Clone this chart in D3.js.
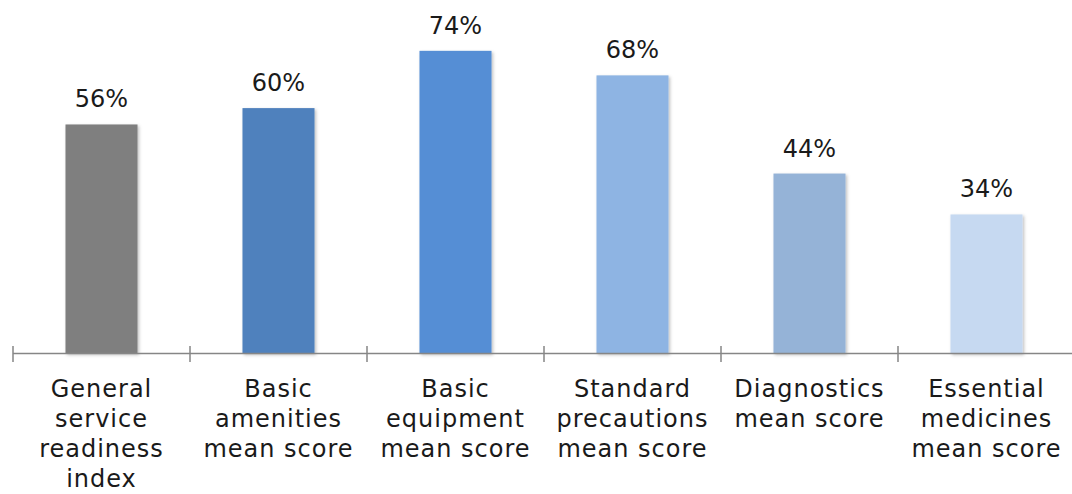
<!DOCTYPE html>
<html><head><meta charset="utf-8">
<script src="https://cdn.jsdelivr.net/npm/d3@7"></script>
<style>body{margin:0;background:#fff}svg{display:block}</style>
</head><body>
<svg id="c" width="1072" height="494"></svg>
<script>
const categories = ["General service readiness index","Basic amenities mean score","Basic equipment mean score","Standard precautions mean score","Diagnostics mean score","Essential medicines mean score"];
const labelLines = [["General","service","readiness","index"],["Basic","amenities","mean score"],["Basic","equipment","mean score"],["Standard","precautions","mean score"],["Diagnostics","mean score"],["Essential","medicines","mean score"]];
const values = [56,60,74,68,44,34];
const colors = ["#7f7f7f","#4f81bd","#558ed5","#8eb4e3","#95b3d7","#c6d9f1"];

const svg = d3.select("#c");
const font = "'DejaVu Sans', sans-serif";
const step = 177, x0 = 13;
const x = d3.scaleBand().domain(categories).range([x0, x0+step*categories.length]).paddingInner(0.593).paddingOuter(0.2965);
const y = d3.scaleLinear().domain([0,100]).range([353.5, 353.5-409]);

const defs = svg.append("defs");
const f = defs.append("filter").attr("id","sh").attr("x","-20%").attr("y","-20%").attr("width","140%").attr("height","140%");
f.append("feDropShadow").attr("dx",1.5).attr("dy",1.5).attr("stdDeviation",1.5).attr("flood-color","#000").attr("flood-opacity",0.25);

svg.selectAll("rect.bar").data(values).join("rect").attr("class","bar")
  .attr("x",(d,i)=>x(categories[i])).attr("width",x.bandwidth())
  .attr("y",d=>y(d)).attr("height",d=>y(0)-y(d))
  .attr("fill",(d,i)=>colors[i]).attr("filter","url(#sh)");

// axis
const ax = svg.append("g");
ax.append("line").attr("x1",x0).attr("x2",1072).attr("y1",353.5).attr("y2",353.5).attr("stroke","#868686").attr("stroke-width",1.5);
const ticks = d3.range(categories.length+1).map(i=>x0+step*i);
ax.selectAll("line.t").data(ticks).join("line").attr("class","t")
  .attr("x1",d=>d).attr("x2",d=>d).attr("y1",346).attr("y2",362).attr("stroke","#868686").attr("stroke-width",1.5);

const cx = i => x(categories[i]) + x.bandwidth()/2;
svg.selectAll("text.v").data(values).join("text").attr("class","v")
  .attr("x",(d,i)=>cx(i)).attr("y",d=>y(d)-17)
  .attr("text-anchor","middle").attr("font-family",font).attr("font-size",24).attr("fill","#1a1a1a")
  .text(d=>d+"%");

labelLines.forEach((lines,i)=>{
  const t = svg.append("text").attr("text-anchor","middle").attr("font-family",font).attr("font-size",24)
    .attr("letter-spacing","1px").attr("fill","#1a1a1a");
  lines.forEach((l,j)=>t.append("tspan").attr("x",cx(i)).attr("y",397+j*30).text(l));
});
</script>
</body></html>
